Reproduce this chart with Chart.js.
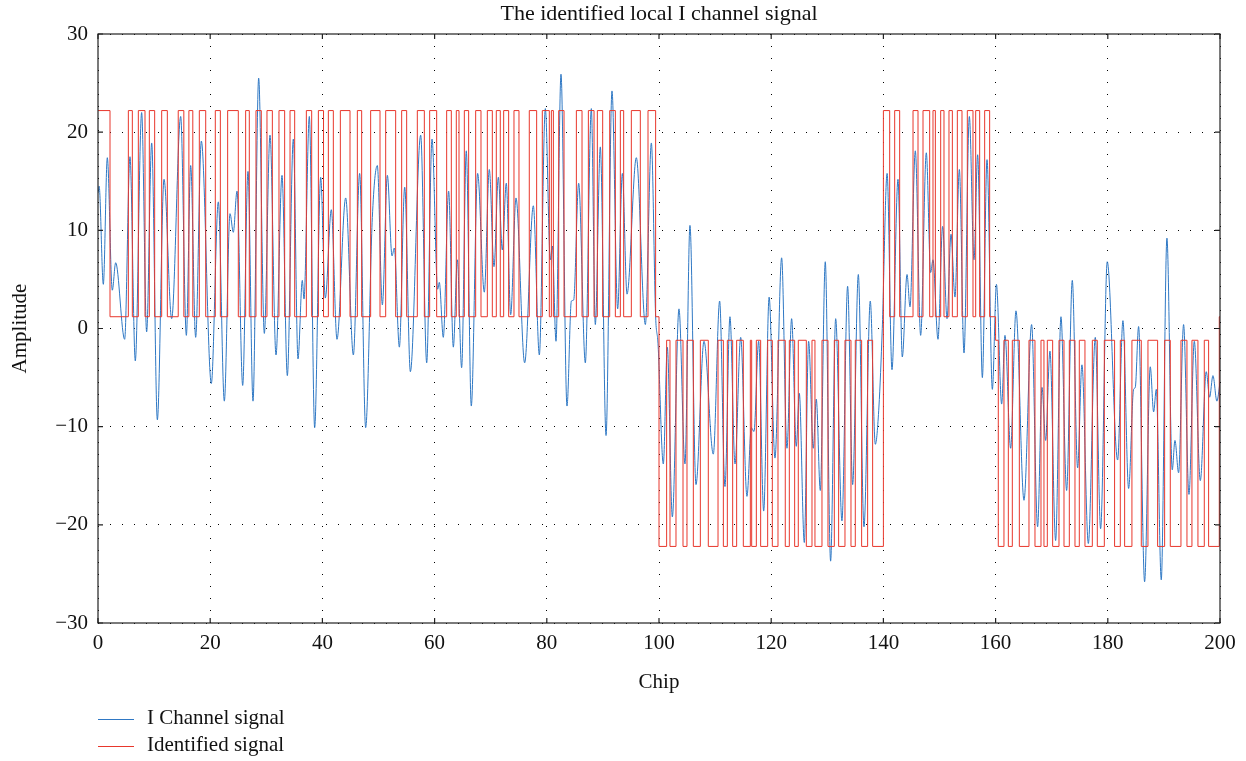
<!DOCTYPE html>
<html>
<head>
<meta charset="utf-8">
<script src="https://cdn.jsdelivr.net/npm/chart.js@4.4.1/dist/chart.umd.min.js"></script>
<style>
    body { margin: 0; background: #fff; }
    #wrap { position: relative; width: 1246px; height: 761px; }
    #legend { position: absolute; left: 98px; top: 704px; font-family: "Liberation Serif", "DejaVu Serif", serif; font-size: 21px; color: #111; }
    .row { height: 27px; line-height: 27px; white-space: nowrap; }
    .swatch { display: inline-block; width: 36px; height: 0; border-top: 1px solid; vertical-align: middle; margin-right: 13px; }
</style>
</head>
<body>
<div id="wrap">
    <canvas id="chart" width="1246" height="761"></canvas>
    <div id="legend"></div>
</div>
<script>

//======================================
// Data
//======================================

const TITLE = "The identified local I channel signal";
const X_LABEL = "Chip";
const Y_LABEL = "Amplitude";

const X_TICKS = [0, 20, 40, 60, 80, 100, 120, 140, 160, 180, 200];
const Y_TICKS = [-30, -20, -10, 0, 10, 20, 30];

//I channel signal - turning points (chip position, amplitude)
const iChannelChip = [
    0, 0.2, 0.95, 1.66, 2.55, 3.15, 4.75, 5.7, 6.65, 7.78, 8.67, 9.57, 10.58, 11.77, 13.13, 14.74, 15.75, 16.52, 17.41, 18.42,
    20.2, 21.45, 22.52, 23.53, 24.12, 24.78, 25.79, 26.74, 27.63, 28.64, 29.65, 30.66, 31.73, 32.8, 33.75, 34.82, 35.65, 36.42, 36.72, 37.67, 38.62, 39.69,
    40.52, 41.59, 42.6, 44.15, 45.52, 46.64, 47.71, 48.9, 49.79, 50.69, 51.58, 52.41, 52.82, 53.72, 54.67, 55.68, 57.52, 58.59, 59.54,
    60.55, 60.84, 61.55, 62.5, 63.34, 64.05, 64.82, 65.65, 66.54, 67.67, 68.86, 69.75, 70.59, 71.36, 72.07, 72.78, 73.56, 74.51, 76.05, 77.6, 78.67, 79.74,
    80.63, 80.99, 81.64, 82.53, 83.6, 84.38, 84.79, 85.68, 86.87, 87.94, 88.65, 89.54, 90.56, 91.62, 92.63, 93.47, 94.3, 95.96, 97.57, 98.64, 99.4, 99.82,
    100.77, 101.48, 102.38, 103.56, 104.63, 105.52, 106.59, 108.02, 109.68, 110.81, 111.76, 112.65, 113.55, 114.56, 115.68, 116.46, 116.93, 117.76, 118.66, 119.63,
    120.67, 121.86, 122.81, 123.64, 124.47, 125.01, 125.9, 126.67, 127.5, 128.04, 128.75, 129.64, 130.59, 131.49, 132.61, 133.62, 134.52, 135.53, 136.54, 137.66, 138.56, 139.2, 139.8,
    140.66, 141.53, 142.6, 143.37, 144.21, 144.74, 145.69, 146.64, 147.65, 148.42, 148.84, 149.73, 150.56, 151.34, 152.05, 152.76, 153.54, 154.37, 155.32, 156.15, 156.8, 157.64, 158.47, 159.42,
    160.15, 161.08, 161.67, 162.68, 163.63, 165.06, 166.42, 167.49, 168.27, 168.92, 169.69, 170.7, 171.65, 172.66, 173.67, 174.62, 175.39, 176.53, 177.77, 178.72, 179.9,
    181.75, 182.7, 183.71, 184.6, 184.9, 185.49, 186.56, 187.57, 188.17, 188.64, 189.53, 190.54, 191.49, 191.97, 192.62, 193.51, 194.47, 195.42, 196.49, 197.55, 198.15, 198.74, 199.45, 200
];
const iChannelAmp = [
    13.8, 14.5, 4.5, 17.4, 3.9, 6.7, -1.1, 17.5, -3.3, 22.0, -0.35, 18.9, -9.3, 15.2, 1.0, 21.6, -0.7, 16.6, -0.9, 19.1,
    -5.6, 12.9, -7.4, 11.7, 9.8, 14.0, -5.8, 16.0, -7.4, 25.5, -0.5, 19.7, -2.7, 15.6, -4.8, 19.3, -3.1, 4.9, 3.0, 21.6, -10.1, 15.4,
    3.1, 12.1, -1.1, 13.3, -2.7, 15.8, -10.1, 11.3, 16.6, 2.4, 15.6, 7.4, 8.2, -1.9, 14.4, -4.4, 19.7, -3.5, 19.3,
    4.0, 4.7, -0.9, 14.0, -1.9, 7.0, -4.0, 18.1, -7.9, 15.8, 3.7, 16.2, 6.3, 15.4, 8.0, 14.8, 1.4, 13.3, -3.5, 12.5, -2.7, 22.4,
    7.0, 8.4, -1.3, 25.9, -7.9, 2.8, 2.9, 14.8, -3.5, 22.4, 0.4, 18.5, -10.9, 24.2, 2.0, 15.8, 3.5, 17.4, 0.4, 18.9, 1.2, -1.5,
    -13.8, -1.9, -19.2, 2.0, -13.8, 10.5, -15.9, -1.3, -12.8, 2.8, -16.1, 1.2, -13.8, -0.9, -17.1, -10.1, -10.5, -1.3, -18.6, 3.2,
    -13.2, 7.2, -12.2, 1.0, -12.0, -6.6, -21.8, -1.3, -12.2, -7.2, -16.5, 6.8, -23.7, 1.0, -19.6, 4.3, -15.9, 5.5, -20.2, 2.8, -11.8, -8.0, 0.0,
    15.8, -4.2, 15.2, -2.9, 5.5, 2.2, 18.1, -0.7, 17.9, 5.7, 7.0, -1.1, 10.4, 1.0, 9.6, 3.2, 16.2, -2.5, 21.6, 7.0, 17.7, -5.0, 17.2, -6.2,
    4.5, -7.7, -0.7, -12.2, 1.8, -17.5, 0.4, -20.2, -6.0, -11.4, -2.3, -21.6, 1.2, -16.5, 4.9, -14.2, -3.7, -21.9, -0.9, -20.4, 6.8,
    -13.4, 0.8, -16.3, -6.2, -6.0, 0.2, -25.8, -3.9, -8.5, -6.2, -25.6, 9.2, -14.4, -11.4, -14.7, 0.4, -16.9, -1.3, -15.5, -4.4, -7.0, -4.8, -7.4, -5.5
];

//identified signal - switching chips and the level held from each one
const identEdges = [
    0, 2.14, 5.41, 6.12, 7.19, 8.38, 9.15, 10.1, 11.35, 12.36, 14.3, 15.3, 16.2, 16.9, 18.06, 19.2,
    20.91, 21.81, 23.11, 25.01, 26.32, 26.97, 28.16, 29.11, 30.12, 31.08, 32.26, 33.27, 34.23, 35.06, 37.14, 38.09, 39.28,
    40.2, 41.06, 41.95, 43.2, 44.92, 46.23, 47.0, 48.6, 50.27, 51.28, 53.06, 54.13, 55.02, 56.92, 58.17, 59.12,
    60.37, 62.15, 62.98, 63.87, 64.35, 65.3, 66.07, 67.32, 68.27, 69.4, 70.29, 71.0, 71.71, 72.31, 73.2, 74.15, 75.04, 76.88, 78.19, 79.2,
    80.45, 80.81, 81.17, 82.12, 83.07, 85.27, 86.28, 87.41, 88.42, 89.01, 89.96, 91.21, 92.22, 93.11, 93.7, 95.07, 96.67, 98.04, 99.4,
    100.0, 101.36, 101.96, 103.03, 104.28, 104.99, 106.12, 107.37, 108.79, 110.52, 111.47, 112.18, 113.13, 113.84, 115.03, 116.28, 116.52, 117.35, 118.12, 119.37,
    120.2, 121.21, 122.51, 123.23, 124.18, 124.83, 126.26, 127.27, 127.8, 129.05, 130.12, 131.25, 132.02, 133.15, 134.22, 134.99, 136.12, 137.19, 138.08,
    140.0, 141.12, 142.01, 142.9, 145.28, 146.17, 147.06, 148.25, 148.84, 149.26, 150.21, 150.8, 151.69, 152.29, 153.18, 154.01, 154.96, 155.97, 156.45, 157.16, 158.05, 158.94,
    160.0, 160.48, 161.49, 162.27, 162.98, 164.23, 165.95, 167.02, 168.09, 168.62, 169.22, 170.17, 171.3, 172.19, 173.14, 174.15, 174.92, 175.93, 177.24, 178.13, 179.38,
    181.21, 182.23, 183.0, 184.3, 185.97, 187.16, 188.88, 190.13, 191.14, 193.04, 194.11, 195.0, 196.07, 197.2, 197.97, 199.87
];
const identLevels = [
    22.2, 1.2, 22.2, 1.2, 22.2, 1.2, 22.2, 1.2, 22.2, 1.2, 22.2, 1.2, 22.2, 1.2, 22.2, 1.2,
    22.2, 1.2, 22.2, 1.2, 22.2, 1.2, 22.2, 1.2, 22.2, 1.2, 22.2, 1.2, 22.2, 1.2, 22.2, 1.2, 22.2,
    1.2, 22.2, 1.2, 22.2, 1.2, 22.2, 1.2, 22.2, 1.2, 22.2, 1.2, 22.2, 1.2, 22.2, 1.2, 22.2,
    1.2, 22.2, 1.2, 22.2, 1.2, 22.2, 1.2, 22.2, 1.2, 22.2, 1.2, 22.2, 1.2, 22.2, 1.2, 22.2, 1.2, 22.2, 1.2, 22.2,
    1.2, 22.2, 1.2, 22.2, 1.2, 22.2, 1.2, 22.2, 1.2, 22.2, 1.2, 22.2, 1.2, 22.2, 1.2, 22.2, 1.2, 22.2, 1.2,
    -22.2, -1.2, -22.2, -1.2, -22.2, -1.2, -22.2, -1.2, -22.2, -1.2, -22.2, -1.2, -22.2, -1.2, -22.2, -1.2, -22.2, -1.2, -22.2, -1.2,
    -22.2, -1.2, -22.2, -1.2, -22.2, -1.2, -22.2, -1.2, -22.2, -1.2, -22.2, -1.2, -22.2, -1.2, -22.2, -1.2, -22.2, -1.2, -22.2,
    22.2, 1.2, 22.2, 1.2, 22.2, 1.2, 22.2, 1.2, 22.2, 1.2, 22.2, 1.2, 22.2, 1.2, 22.2, 1.2, 22.2, 1.2, 22.2, 1.2, 22.2, 1.2,
    -1.2, -22.2, -1.2, -22.2, -1.2, -22.2, -1.2, -22.2, -1.2, -22.2, -1.2, -22.2, -1.2, -22.2, -1.2, -22.2, -1.2, -22.2, -1.2, -22.2, -1.2,
    -22.2, -1.2, -22.2, -1.2, -22.2, -1.2, -22.2, -1.2, -22.2, -1.2, -22.2, -1.2, -22.2, -1.2, -22.2, 1.2
];

const BLUE = "#2f78c4";
const RED = "#e8372c";
const FONT = "'Liberation Serif', 'DejaVu Serif', serif";

//======================================
// Build datasets
//======================================

const iChannelPoints = iChannelChip.map((x, i) => ({x: x, y: iChannelAmp[i]}));

//stepped line holds each level until the next edge, so add an end point at the last chip
const identPoints = identEdges.map((x, i) => ({x: x, y: identLevels[i]}));
identPoints.push({x: X_TICKS[X_TICKS.length - 1], y: identLevels[identLevels.length - 1]});

//MATLAB style box with inward tick marks on all four sides
const boxPlugin = {
    id: "boxTicks",
    afterDatasetsDraw(chart) {
        const {ctx, chartArea: a, scales} = chart;
        const len = 5;
        ctx.save();
        ctx.strokeStyle = "#222";
        ctx.lineWidth = 1.2;
        ctx.strokeRect(a.left, a.top, a.right - a.left, a.bottom - a.top);
        ctx.beginPath();
        X_TICKS.forEach(v => {
            const px = scales.x.getPixelForValue(v);
            ctx.moveTo(px, a.bottom); ctx.lineTo(px, a.bottom - len);
            ctx.moveTo(px, a.top); ctx.lineTo(px, a.top + len);
        });
        Y_TICKS.forEach(v => {
            const py = scales.y.getPixelForValue(v);
            ctx.moveTo(a.left, py); ctx.lineTo(a.left + len, py);
            ctx.moveTo(a.right, py); ctx.lineTo(a.right - len, py);
        });
        ctx.stroke();
        ctx.restore();
    }
};

const minus = v => String(v).replace("-", "\u2212");

new Chart(document.getElementById("chart"), {
    type: "line",
    data: {
        datasets: [
            {
                label: "I Channel signal",
                data: iChannelPoints,
                borderColor: BLUE,
                borderWidth: 1,
                pointRadius: 0,
                cubicInterpolationMode: "monotone",
                order: 1
            },
            {
                label: "Identified signal",
                data: identPoints,
                borderColor: RED,
                borderWidth: 1,
                pointRadius: 0,
                stepped: true,
                order: 0
            }
        ]
    },
    options: {
        responsive: false,
        animation: false,
        layout: { padding: { left: 8, right: 26, top: 0, bottom: 65 } },
        plugins: {
            legend: { display: false },
            tooltip: { enabled: false },
            title: {
                display: true,
                fullSize: false,
                text: TITLE,
                color: "#111",
                font: { family: FONT, size: 22, weight: "normal" },
                padding: { top: 1, bottom: 6.6 }
            }
        },
        scales: {
            x: {
                type: "linear",
                min: 0,
                max: 200,
                afterBuildTicks: s => { s.ticks = X_TICKS.map(v => ({value: v})); },
                afterFit: s => { s.height = 73; },
                ticks: { color: "#111", font: { family: FONT, size: 21 }, padding: 8, maxRotation: 0 },
                grid: { color: "#000", lineWidth: 1, drawTicks: false },
                border: { display: false, dash: [1, 11] },
                title: { display: true, text: X_LABEL, color: "#111", font: { family: FONT, size: 21 }, padding: { top: 0, bottom: 1 } }
            },
            y: {
                min: -30,
                max: 30,
                afterBuildTicks: s => { s.ticks = Y_TICKS.map(v => ({value: v})); },
                afterFit: s => { s.width = 90; },
                ticks: { color: "#111", font: { family: FONT, size: 21 }, padding: 10, callback: v => minus(v) },
                grid: { color: "#000", lineWidth: 1, drawTicks: false },
                border: { display: false, dash: [1, 11] },
                title: { display: true, text: Y_LABEL, color: "#111", font: { family: FONT, size: 21 }, padding: 0 }
            }
        }
    },
    plugins: [boxPlugin]
});

//legend under the plot, one entry per row
const legendEl = document.getElementById("legend");
[["I Channel signal", BLUE], ["Identified signal", RED]].forEach(([name, col]) => {
    const row = document.createElement("div");
    row.className = "row";
    row.innerHTML = '<span class="swatch" style="border-color:' + col + '"></span>' + name;
    legendEl.appendChild(row);
});
</script>
</body>
</html>
